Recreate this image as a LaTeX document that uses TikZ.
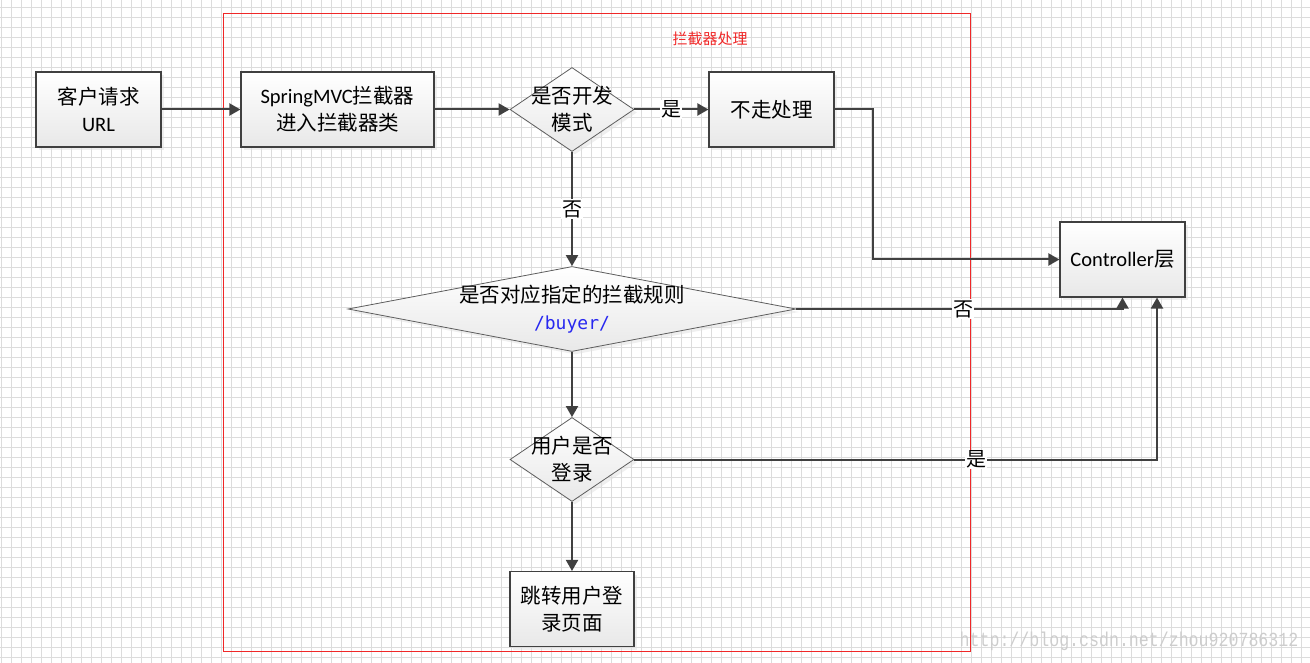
\documentclass[tikz,border=0pt]{standalone}
\usepackage{fontspec}
\setmainfont{Carlito}
\setmonofont{DejaVu Sans Mono}
\newfontfamily\cjk{Noto Sans CJK SC}
\newfontfamily\wmfont[FakeStretch=0.83]{Liberation Mono}
\usetikzlibrary{shapes.geometric,arrows.meta,shadows,calc}
\definecolor{linegray}{RGB}{64,64,64}
\definecolor{framered}{RGB}{240,40,40}
\definecolor{gridgray}{RGB}{220,220,220}
\definecolor{urlblue}{RGB}{40,40,240}
\definecolor{wmgray}{RGB}{205,205,205}
\tikzset{
    block/.style = {draw=linegray, rectangle, line width=1.1pt,
        minimum height=75pt,
        minimum width=125pt, align=center,
        top color=white, bottom color=black!9,
        drop shadow={shadow xshift=3pt, shadow yshift=-3pt, fill=black!12}},
    decision/.style = {draw=linegray!85, diamond, line width=0.8pt, inner sep=0pt,
        minimum width=124pt, minimum height=84pt,
        top color=white, bottom color=black!9,
        drop shadow={shadow xshift=3pt, shadow yshift=-3pt, fill=black!12}},
    arrow/.style = {draw=linegray, line width=2pt, -{Triangle[length=11pt,width=12pt]}},
    lbl/.style = {fill=white, inner sep=1pt, font=\fontsize{20}{27}\selectfont\cjk},
    gridline/.style = {draw=gridgray, line width=0.8pt},
    grouptitle/.style = {text=framered, font=\fontsize{15}{18}\selectfont\cjk},
    watermark/.style = {text=wmgray, font=\fontsize{20}{24}\selectfont\wmfont}
}
\begin{document}
\begin{tikzpicture}[x=1pt, y=-1pt, every node/.style={font=\fontsize{20.5}{27}\selectfont}]
    \useasboundingbox (0,0) rectangle (1310,663);
    % background grid
    \foreach \gx in {1,11,...,1310}{
        \draw [gridline] (\gx,0) -- (\gx,663);
    }
    \foreach \gy in {7,17,...,663}{
        \draw [gridline] (0,\gy) -- (1310,\gy);
    }
    \node [watermark, name=wm] at (1129,641) {http://blog.csdn.net/zhou920786312};
    % interceptor frame
    \node [draw=framered, line width=1pt, minimum width=747pt, minimum height=637pt, name=frame] at (596.5,332.5) {};
    \node [grouptitle, name=title] at (710,39) {拦截器处理};
    \node [block, name=client] at (98.5,109.5) {{\cjk 客户请求}\\URL};
    \node [block, right of=client, node distance=239pt, minimum width=193pt, name=spring] {SpringMVC{\cjk 拦截器}\\{\cjk 进入拦截器类}};
    \node [decision, right of=spring, node distance=234.5pt,
        label={[align=center]center:{\cjk 是否开发}\\{\cjk 模式}}] (dev) {};
    \node [block, right of=dev, node distance=199.5pt, name=skip] {\cjk 不走处理};
    \node [block, name=ctrl] at (1122.5,259.5) {Controller{\cjk 层}};
    \node [decision, below of=dev, node distance=199.5pt, minimum width=448pt, minimum height=85pt,
        label={[align=center]center:{\cjk 是否对应指定的拦截规则}\\{\ttfamily\color{urlblue}\fontsize{18}{27}\selectfont /buyer/}}] (rule) {};
    \node [decision, below of=rule, node distance=150.5pt,
        label={[align=center]center:{\cjk 用户是否}\\{\cjk 登录}}] (login) {};
    \node [block, below of=login, node distance=149.5pt, minimum width=124pt, name=jump] {{\cjk 跳转用户登}\\{\cjk 录页面}};
    % connectors
    \draw [arrow] (client) -- (spring);
    \draw [arrow] (spring) -- (dev);
    \draw [arrow] (dev) -- node [lbl] {是} (skip);
    \draw [arrow] (dev) -- node [lbl] {否} (rule);
    \draw [arrow] (skip.east) -- ++(38,0) |- (ctrl.west);
    \draw [arrow] (rule.east) -| node [lbl, pos=0.256] {否} (ctrl.south);
    \draw [arrow] (rule) -- (login);
    \draw [arrow] (login.east) -| node [lbl, pos=0.327] {是} ([xshift=34.5pt]ctrl.south);
    \draw [arrow] (login) -- (jump);
\end{tikzpicture}
\end{document}
